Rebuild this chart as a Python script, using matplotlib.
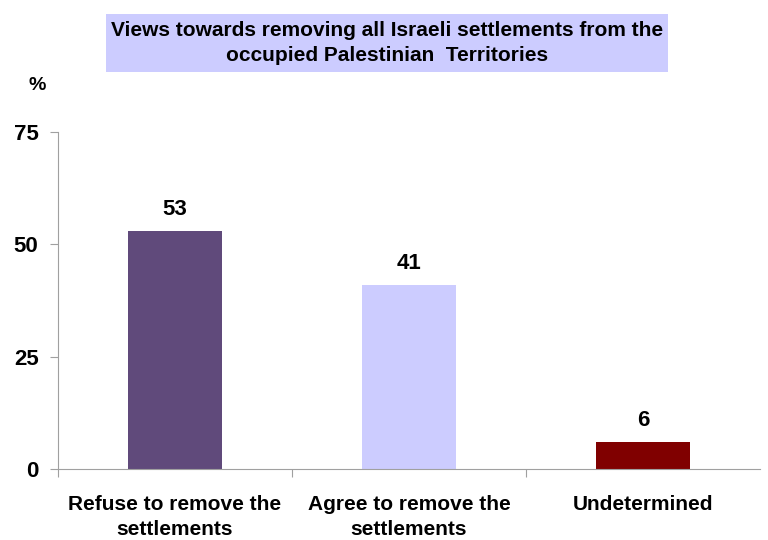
import matplotlib
matplotlib.use("Agg")
import matplotlib.pyplot as plt
from matplotlib.patches import Rectangle

categories = ["Refuse to remove the\nsettlements", "Agree to remove the\nsettlements", "Undetermined"]
values = [53, 41, 6]
colors = ["#604A7B", "#CCCCFF", "#800000"]
yticks = [0, 25, 50, 75]
title = "Views towards removing all Israeli settlements from the\noccupied Palestinian  Territories"

plt.rcParams["font.family"] = ["Liberation Sans", "DejaVu Sans"]
plt.rcParams["font.weight"] = "bold"

fig = plt.figure(figsize=(7.68, 5.4), dpi=100)
ax = fig.add_axes([58 / 768, 1 - 469 / 540, 702 / 768, 337 / 540])

x = list(range(len(categories)))
ax.bar(x, values, width=0.4, color=colors, zorder=2)
for xi, v in zip(x, values):
    ax.text(xi, v + 2.5, str(v), ha="center", va="bottom", fontsize=16, fontweight="bold")

ax.set_xlim(-0.5, len(categories) - 0.5)
ax.set_ylim(0, 75)
ax.set_yticks(yticks)
ax.set_yticklabels([str(t) for t in yticks], fontsize=16, fontweight="bold")
ax.set_xticks([i - 0.5 for i in range(len(categories))])
ax.set_xticklabels([])
ax.tick_params(axis="y", length=6, color="#A0A0A0", pad=8)
ax.tick_params(axis="x", length=6, color="#A0A0A0", direction="out")

for xi, lab in zip(x, categories):
    ax.text(xi, -0.078, lab, transform=ax.get_xaxis_transform(), ha="center", va="top",
            fontsize=15, fontweight="bold", linespacing=1.35)

for side in ("top", "right"):
    ax.spines[side].set_visible(False)
for side in ("left", "bottom"):
    ax.spines[side].set_color("#A0A0A0")

fig.text(37 / 768, 1 - 85 / 540, "%", ha="center", va="center", fontsize=14, fontweight="bold")

# title box
fig.patches.append(Rectangle((106 / 768, 1 - 72 / 540), 562 / 768, 58 / 540,
                             transform=fig.transFigure, facecolor="#CCCCFF", edgecolor="none"))
fig.text(387 / 768, 1 - 43 / 540, title, ha="center", va="center", fontsize=15,
         fontweight="bold", linespacing=1.4)

fig.savefig("out.png", dpi=100)
